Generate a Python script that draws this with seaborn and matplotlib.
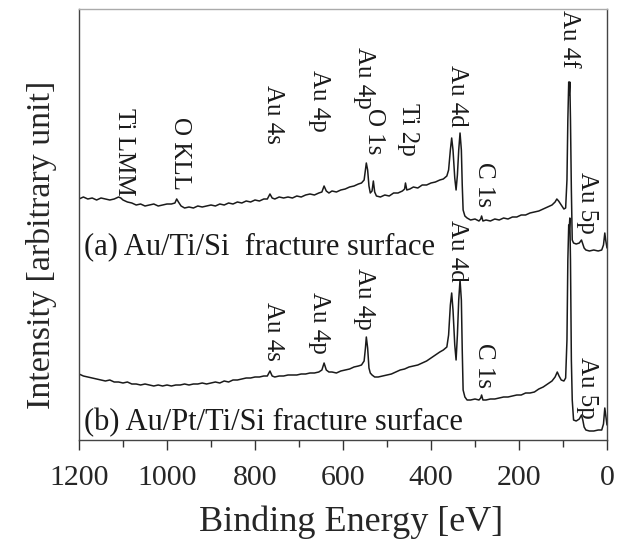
import matplotlib
matplotlib.use("Agg")
import matplotlib.pyplot as plt
from matplotlib.ticker import MultipleLocator
import seaborn as sns
import pandas as pd

# ---- data (binding energy [eV], intensity [arb. unit]) ----
energy_a = [1200, 1190, 1180, 1170, 1160, 1150, 1140, 1130, 1120, 1110, 1105, 1100, 1090, 1080,
            1070, 1060, 1050, 1040, 1030, 1020, 1010, 1000, 990, 982, 978, 974, 968, 960, 950,
            940, 930, 920, 910, 900, 890, 880, 870, 860, 850, 840, 830, 820, 810, 800, 790, 780,
            772, 766, 761, 755, 745, 735, 725, 715, 705, 695, 685, 675, 665, 655, 648, 643, 638,
            632, 625, 615, 605, 595, 585, 575, 565, 558, 552, 549, 547, 544, 541, 538, 534, 531,
            528, 524, 515, 505, 495, 485, 475, 465, 460, 458, 455, 448, 440, 430, 420, 410, 400,
            390, 380, 372, 364, 360, 356, 353, 350, 346, 343, 340, 337, 334, 331, 329, 327, 323,
            318, 310, 300, 291, 287, 285, 282, 275, 265, 255, 245, 235, 225, 215, 205, 195, 185,
            175, 165, 155, 145, 135, 125, 118, 114, 110, 104, 98, 94, 91, 89, 87, 86, 84.5, 83,
            81, 79, 76, 70, 63, 58, 55, 52, 48, 40, 30, 20, 12, 8, 5, 3, 0]
intensity_a = [241, 243, 241, 242, 240, 242, 241, 240, 241, 243, 242, 240, 238, 237,
               235, 236, 234, 235, 236, 234, 235, 236, 236, 237, 241, 238, 234, 232, 233,
               232, 234, 233, 234, 235, 234, 236, 235, 237, 236, 238, 237, 239, 238, 240, 239, 241,
               241, 246, 242, 241, 243, 242, 243, 242, 244, 243, 245, 246, 245, 247, 248, 254, 249,
               247, 249, 248, 250, 251, 253, 254, 256, 257, 260, 270, 277, 270, 254, 247, 249, 259,
               248, 244, 243, 245, 244, 247, 247, 249, 251, 257, 250, 251, 253, 252, 255, 255, 257,
               258, 260, 261, 264, 270, 290, 302, 290, 262, 250, 265, 290, 307, 290, 255, 230, 224,
               222, 220, 221, 219, 221, 224, 219, 220, 219, 221, 220, 222, 221, 223, 223, 225, 225,
               227, 228, 229, 231, 233, 235, 238, 241, 239, 235, 231, 232, 260, 320, 358, 345, 358, 320,
               250, 200, 197, 196, 197, 200, 196, 192, 190, 189, 190, 189, 190, 195, 207, 200, 192]

energy_b = [1200, 1190, 1180, 1170, 1160, 1150, 1140, 1130, 1120, 1110, 1100, 1090, 1080, 1070,
            1060, 1050, 1040, 1030, 1020, 1010, 1000, 990, 980, 970, 960, 950, 940, 930, 920,
            910, 900, 890, 880, 870, 860, 850, 840, 830, 820, 810, 800, 790, 780, 772, 766, 761,
            755, 745, 735, 725, 715, 705, 695, 685, 675, 665, 655, 648, 643, 638, 632, 625, 615,
            605, 595, 585, 575, 565, 558, 552, 549, 547, 544, 541, 538, 534, 528, 520, 510, 500,
            490, 480, 470, 460, 450, 440, 430, 420, 410, 400, 390, 380, 372, 364, 360, 356, 353,
            350, 346, 343, 340, 337, 334, 331, 329, 327, 323, 318, 310, 300, 291, 287, 285, 282,
            275, 265, 255, 245, 235, 225, 215, 205, 195, 185, 175, 165, 155, 145, 135, 125, 118,
            113, 109, 104, 98, 94, 91, 89, 87, 86, 84.5, 83, 81, 79, 76, 70, 63, 58, 55, 52, 48,
            40, 30, 20, 12, 8, 5, 3, 0]
intensity_b = [66, 64, 63, 62, 61, 60, 59, 60, 58, 58, 57, 58, 56, 56,
               55, 56, 55, 54, 55, 54, 55, 54, 55, 55, 56, 55, 56, 56, 57,
               56, 57, 58, 57, 59, 58, 60, 60, 61, 62, 62, 63, 63, 64, 64, 69, 64,
               63, 64, 64, 65, 65, 65, 66, 66, 67, 67, 68, 70, 77, 70, 68, 68, 67,
               69, 70, 71, 73, 74, 75, 79, 92, 103, 92, 72, 67, 65, 63, 63, 64, 65,
               66, 68, 70, 71, 73, 74, 75, 77, 79, 82, 85, 88, 90, 93, 105, 135, 147,
               130, 95, 80, 105, 140, 160, 140, 90, 50, 43, 40, 40, 41, 40, 42, 45, 40,
               40, 41, 41, 42, 43, 43, 44, 45, 45, 47, 47, 48, 51, 53, 56, 59, 63,
               68, 64, 60, 59, 62, 100, 180, 215, 210, 222, 180, 80, 40, 20, 19, 21, 25, 20, 13, 10,
               9, 9, 10, 10, 16, 32, 25, 15]

# peak labels: (text, energy, top of label in intensity units)
peak_labels_a = [("Ti LMM", 1098, 332), ("O KLL", 970, 323), ("Au 4s", 759, 355),
                 ("Au 4p", 655, 370), ("Au 4p", 552, 393), ("O 1s", 529, 332),
                 ("Ti 2p", 452, 337), ("Au 4d", 341, 375), ("C 1s", 280, 278),
                 ("Au 4f", 86, 430), ("Au 5p", 45, 268)]
peak_labels_b = [("Au 4s", 759, 138), ("Au 4p", 655, 148), ("Au 4p", 552, 172),
                 ("Au 4d", 341, 220), ("C 1s", 280, 97), ("Au 5p", 45, 83)]
panel_a = "(a) Au/Ti/Si  fracture surface"
panel_b = "(b) Au/Pt/Ti/Si fracture surface"
x_label = "Binding Energy [eV]"
y_label = "Intensity [arbitrary unit]"

# ---- plotting ----
sns.set_theme(style="ticks")
plt.rcParams["font.family"] = ["Liberation Serif", "DejaVu Serif"]

fig = plt.figure(figsize=(6.22, 5.41), dpi=100)
ax = fig.add_axes([79 / 622, 101 / 541, 528 / 622, 431 / 541])

df_a = pd.DataFrame({"E": energy_a, "I": intensity_a})
df_b = pd.DataFrame({"E": energy_b, "I": intensity_b})
sns.lineplot(data=df_a, x="E", y="I", ax=ax, color="#1a1a1a", lw=1.1, estimator=None, sort=False)
sns.lineplot(data=df_b, x="E", y="I", ax=ax, color="#1a1a1a", lw=1.1, estimator=None, sort=False)

ax.set_xlim(1200, 0)
ax.set_ylim(0, 431)
ax.set_yticks([])
ax.xaxis.set_major_locator(MultipleLocator(200))
ax.xaxis.set_minor_locator(MultipleLocator(100))
ax.tick_params(axis="x", which="major", direction="out", length=7.2, width=1.0,
               color="#333333", labelsize=21.5, pad=11)
ax.tick_params(axis="x", which="minor", direction="out", length=5, width=1.0, color="#333333")
for s in ["left", "bottom", "right"]:
    ax.spines[s].set_color("#444444")
    ax.spines[s].set_linewidth(1.0)
    ax.spines[s].set_visible(True)
ax.spines["top"].set_visible(True)
ax.spines["top"].set_color("#aaaaaa")
ax.spines["top"].set_linewidth(1.0)

ax.set_xlabel(x_label, fontsize=26)
ax.set_ylabel(y_label, fontsize=24.5)
ax.xaxis.set_label_coords(0.516, -0.153)
ax.yaxis.set_label_coords(-0.041, 0.4536)

for txt, e, top in peak_labels_a + peak_labels_b:
    ax.text(e, top, txt, rotation=-90, ha="center", va="top", fontsize=18, color="#1a1a1a")

ax.text(1188, 208, panel_a, ha="left", va="top", fontsize=22, color="#1a1a1a")
ax.text(1188, 32, panel_b, ha="left", va="top", fontsize=22, color="#1a1a1a")

fig.savefig("out.png", dpi=100)
